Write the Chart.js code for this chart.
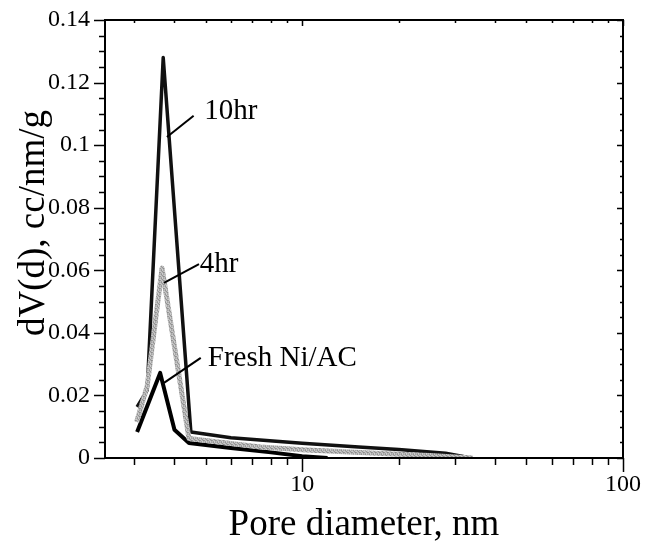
<!DOCTYPE html>
<html>
<head>
<meta charset="utf-8">
<title>Pore size distribution</title>
<script src="https://cdn.jsdelivr.net/npm/chart.js@4.4.0/dist/chart.umd.min.js"></script>
<style>
  html, body { margin: 0; padding: 0; background: #fff; }
</style>
</head>
<body>
<canvas id="psd" width="649" height="552"></canvas>
<script>
// BJH pore size distribution of the Ni/AC catalyst after different times on stream
const diam10hr = [3.06, 3.29, 3.69, 4.5, 6, 10, 15, 20, 28, 33];
const dv10hr   = [0.0163, 0.0217, 0.128, 0.0083, 0.0065, 0.0047, 0.0035, 0.0027, 0.0015, 0.0002];

const diam4hr = [3.05, 3.29, 3.66, 4.44, 7.4, 10, 17, 25, 34];
const dv4hr   = [0.0115, 0.023, 0.0607, 0.0062, 0.0035, 0.0026, 0.0015, 0.0008, 0];

const diamFresh = [3.06, 3.61, 4.0, 4.44, 6, 8, 10, 12];
const dvFresh   = [0.0083, 0.0272, 0.009, 0.0048, 0.0032, 0.0018, 0.0006, 0];

const seriesNames = ['10hr', '4hr', 'Fresh Ni/AC'];

const xTickVals = [3, 4, 5, 6, 7, 8, 9, 10, 20, 30, 40, 50, 60, 70, 80, 90, 100];
const xTickLabels = { 10: '10', 100: '100' };

const SERIF = "'Liberation Serif', 'DejaVu Serif', serif";

function toPoints(xs, ys) {
    return xs.map((x, i) => ({ x: x, y: ys[i] }));
}

// speckled grey stroke for the 4hr curve
function speckle() {
    const shades = [
        '#9a9a9a', '#c4c4c4', '#b0b0b0', '#8c8c8c',
        '#bdbdbd', '#a2a2a2', '#d0d0d0', '#aaaaaa',
        '#b6b6b6', '#939393', '#c8c8c8', '#a6a6a6',
        '#cccccc', '#b2b2b2', '#969696', '#c0c0c0'
    ];
    const tile = document.createElement('canvas');
    tile.width = 4;
    tile.height = 4;
    const tctx = tile.getContext('2d');
    shades.forEach((c, i) => {
        tctx.fillStyle = c;
        tctx.fillRect(i % 4, Math.floor(i / 4), 1, 1);
    });
    return tctx.createPattern(tile, 'repeat');
}

// axis frame plus tick marks (long/short) drawn from the scales
const frameTicks = {
    id: 'frameTicks',
    afterDraw(chart) {
        const { ctx, chartArea: a, scales: { x, y } } = chart;
        ctx.save();
        ctx.strokeStyle = '#000';
        ctx.lineWidth = 2;
        ctx.strokeRect(a.left, a.top, a.right - a.left, a.bottom - a.top);

        ctx.lineWidth = 1.5;
        ctx.beginPath();
        y.ticks.forEach(t => {
            const py = Math.round(y.getPixelForValue(t.value)) + 0.5;
            const len = t.label ? 11 : 6;
            ctx.moveTo(a.left - len, py);
            ctx.lineTo(a.left, py);
            ctx.moveTo(a.right, py);
            ctx.lineTo(a.right - (t.label ? 6 : 3), py);
        });
        x.ticks.forEach(t => {
            const px = Math.round(x.getPixelForValue(t.value)) + 0.5;
            const len = t.label ? 14 : 7;
            ctx.moveTo(px, a.bottom);
            ctx.lineTo(px, a.bottom + len);
            ctx.moveTo(px, a.top);
            ctx.lineTo(px, a.top + (t.label ? 6 : 3));
        });
        ctx.stroke();

        // y axis title, rotated, sitting a little above the axis middle
        const o = chart.options.plugins.frameTicks;
        ctx.font = o.titleFont;
        ctx.fillStyle = '#000';
        ctx.textAlign = 'center';
        ctx.textBaseline = 'alphabetic';
        ctx.translate(o.titleX, (a.top + a.bottom) / 2 - o.titleLift);
        ctx.rotate(-Math.PI / 2);
        ctx.fillText(o.yTitle, 0, 0);
        ctx.restore();
    }
};

// leader lines and series names
const seriesNotes = {
    id: 'seriesNotes',
    afterDraw(chart, args, opts) {
        const { ctx, scales: { x, y } } = chart;
        ctx.save();
        ctx.strokeStyle = '#000';
        ctx.lineWidth = 2;
        ctx.fillStyle = '#000';
        ctx.font = opts.font;
        ctx.textBaseline = 'alphabetic';
        opts.notes.forEach((n, i) => {
            ctx.beginPath();
            ctx.moveTo(x.getPixelForValue(n.tip[0]), y.getPixelForValue(n.tip[1]));
            ctx.lineTo(x.getPixelForValue(n.end[0]), y.getPixelForValue(n.end[1]));
            ctx.stroke();
            ctx.fillText(seriesNames[i], x.getPixelForValue(n.text[0]), y.getPixelForValue(n.text[1]));
        });
        ctx.restore();
    }
};

const ctx = document.getElementById('psd').getContext('2d');
new Chart(ctx, {
    type: 'line',
    data: {
        datasets: [
            {
                label: seriesNames[1],
                data: toPoints(diam4hr, dv4hr),
                borderColor: speckle(),
                borderWidth: 5
            },
            {
                label: seriesNames[0],
                data: toPoints(diam10hr, dv10hr),
                borderColor: '#111',
                borderWidth: 3.5
            },
            {
                label: seriesNames[2],
                data: toPoints(diamFresh, dvFresh),
                borderColor: '#000',
                borderWidth: 4
            }
        ]
    },
    options: {
        responsive: false,
        animation: false,
        events: [],
        layout: { padding: { top: 20, right: 26, left: 0, bottom: 0 } },
        elements: {
            point: { radius: 0 },
            line: { tension: 0, borderJoinStyle: 'round', borderCapStyle: 'butt', fill: false }
        },
        plugins: {
            legend: { display: false },
            tooltip: { enabled: false },
            frameTicks: {
                yTitle: 'dV(d), cc/nm/g',
                titleFont: '37px ' + SERIF,
                titleX: 44,
                titleLift: 16
            },
            seriesNotes: {
                font: '29px ' + SERIF,
                notes: [
                    { tip: [3.79, 0.1026], end: [4.59, 0.1094], text: [4.95, 0.1085] },
                    { tip: [3.71, 0.056], end: [4.77, 0.062], text: [4.8, 0.0595] },
                    { tip: [3.71, 0.024], end: [4.83, 0.032], text: [5.08, 0.0295] }
                ]
            }
        },
        scales: {
            x: {
                type: 'logarithmic',
                position: 'bottom',
                min: 2.43,
                max: 100,
                afterBuildTicks: s => { s.ticks = xTickVals.map(v => ({ value: v })); },
                afterFit: s => {
                    s.height = 94;
                    s.paddingLeft = 0;
                    s.paddingRight = 0;
                },
                grid: { display: false, drawTicks: false },
                border: { display: false },
                ticks: {
                    autoSkip: false,
                    maxRotation: 0,
                    padding: 12,
                    color: '#000',
                    font: { family: SERIF, size: 24 },
                    callback: v => xTickLabels[v] || ''
                },
                title: {
                    display: true,
                    text: 'Pore diameter, nm',
                    color: '#000',
                    font: { family: SERIF, size: 37 },
                    padding: { top: 0, bottom: 5 }
                }
            },
            y: {
                min: 0,
                max: 0.14,
                afterFit: s => {
                    s.width = 105;
                    s.paddingTop = 0;
                    s.paddingBottom = 0;
                },
                grid: { display: false, drawTicks: false },
                border: { display: false },
                ticks: {
                    stepSize: 0.005,
                    autoSkip: false,
                    padding: 15,
                    color: '#000',
                    font: { family: SERIF, size: 24 },
                    callback: v => {
                        const k = v / 0.02;
                        return Math.abs(k - Math.round(k)) < 1e-6 ? String(+v.toFixed(2)) : '';
                    }
                },
                title: { display: false }
            }
        }
    },
    plugins: [frameTicks, seriesNotes]
});
</script>
</body>
</html>
